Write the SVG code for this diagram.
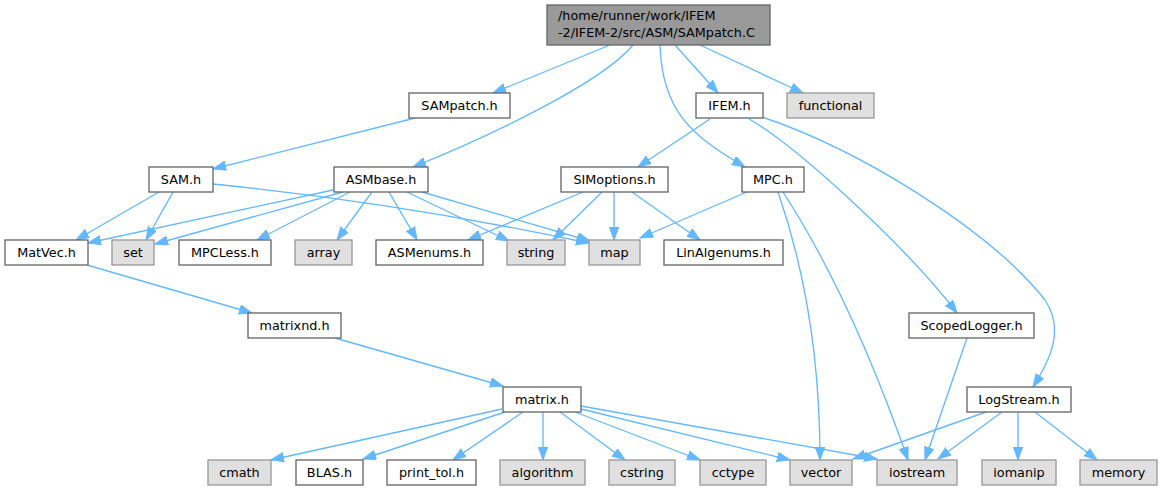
<svg xmlns="http://www.w3.org/2000/svg" width="1163" height="491" viewBox="0 0 1163 491">
<style>
text{font-family:"DejaVu Sans","Liberation Sans",sans-serif;font-size:12.8px;fill:#000;text-anchor:middle}
.n rect{fill:#fff;stroke:#666;stroke-width:1.33}
.g rect{fill:#e0e0e0;stroke:#999;stroke-width:1.33}
.r rect{fill:#999;stroke:#666;stroke-width:1.33}
.r text{text-anchor:start}
#edges path{fill:none;stroke:#63b8ff;stroke-width:1.33;marker-end:url(#ah)}
</style>
<defs>
<marker id="ah" markerUnits="userSpaceOnUse" markerWidth="14" markerHeight="10" refX="13" refY="4.7" orient="auto">
<path d="M0,0 L13,4.7 L0,9.4 z" fill="#63b8ff" stroke="#63b8ff" stroke-width="1"/>
</marker>
</defs>
<rect width="1163" height="491" fill="#fff"/>
<g id="edges">
<path d="M610,45 L493,93"/>
<path d="M633,45 C600,85 480,140 413,167"/>
<path d="M660,45 C662,110 690,135 745,167"/>
<path d="M675,45 L718,93"/>
<path d="M700,45 L803,93"/>
<path d="M415,118 L213,169"/>
<path d="M710,119 L638,167"/>
<path d="M749,119 C795,145 905,245 957,313"/>
<path d="M762,117 C860,150 990,230 1045,300 C1065,330 1050,360 1033,387"/>
<path d="M159,192 L76,240"/>
<path d="M173,192 L146,240"/>
<path d="M213,184 C350,198 480,220 589,243"/>
<path d="M333,190 L88,243"/>
<path d="M343,192 L155,244"/>
<path d="M350,192 L257,240"/>
<path d="M372,192 L337,240"/>
<path d="M389,192 L417,240"/>
<path d="M407,192 L509,241"/>
<path d="M422,192 L590,241"/>
<path d="M583,192 L468,240"/>
<path d="M602,192 L553,240"/>
<path d="M614,192 L614,240"/>
<path d="M632,192 L700,240"/>
<path d="M747,192 L640,238"/>
<path d="M778,192 C805,270 820,360 820,460"/>
<path d="M783,192 C840,280 880,380 908,460"/>
<path d="M967,338 L925,460"/>
<path d="M87,265 L252,313"/>
<path d="M335,338 L503,386"/>
<path d="M502,409 L271,460"/>
<path d="M505,412 L363,459"/>
<path d="M523,412 L453,460"/>
<path d="M543,412 L543,460"/>
<path d="M560,412 L625,460"/>
<path d="M575,412 L700,460"/>
<path d="M581,409 L790,460"/>
<path d="M581,406 L877,459"/>
<path d="M986,412 L853,459"/>
<path d="M1002,412 L938,459"/>
<path d="M1018,412 L1018,460"/>
<path d="M1035,412 L1097,460"/>
</g>
<g id="root" class="r"><rect x="547" y="5" width="223" height="40"/><text x="558" y="20">/home/runner/work/IFEM</text><text x="558" y="37">-2/IFEM-2/src/ASM/SAMpatch.C</text></g>
<g id="SAMpatch_h" class="n"><rect x="409" y="93" width="101" height="25"/><text x="459.5" y="110">SAMpatch.h</text></g>
<g id="IFEM_h" class="n"><rect x="696" y="93" width="67" height="25"/><text x="729.5" y="110">IFEM.h</text></g>
<g id="functional" class="g"><rect x="787" y="93" width="87" height="25"/><text x="830.5" y="110">functional</text></g>
<g id="SAM_h" class="n"><rect x="149" y="167" width="64" height="25"/><text x="181" y="184">SAM.h</text></g>
<g id="ASMbase_h" class="n"><rect x="334" y="167" width="94" height="25"/><text x="381" y="184">ASMbase.h</text></g>
<g id="SIMoptions_h" class="n"><rect x="561" y="167" width="107" height="25"/><text x="614.5" y="184">SIMoptions.h</text></g>
<g id="MPC_h" class="n"><rect x="742" y="167" width="62" height="25"/><text x="773" y="184">MPC.h</text></g>
<g id="MatVec_h" class="n"><rect x="5" y="240" width="83" height="25"/><text x="46.5" y="257">MatVec.h</text></g>
<g id="set" class="g"><rect x="112" y="240" width="42" height="25"/><text x="133" y="257">set</text></g>
<g id="MPCLess_h" class="n"><rect x="179" y="240" width="92" height="25"/><text x="225" y="257">MPCLess.h</text></g>
<g id="array" class="g"><rect x="295" y="240" width="57" height="25"/><text x="323.5" y="257">array</text></g>
<g id="ASMenums_h" class="n"><rect x="376" y="240" width="107" height="25"/><text x="429.5" y="257">ASMenums.h</text></g>
<g id="string" class="g"><rect x="507" y="240" width="58" height="25"/><text x="536" y="257">string</text></g>
<g id="map" class="g"><rect x="589" y="240" width="51" height="25"/><text x="614.5" y="257">map</text></g>
<g id="LinAlgenums_h" class="n"><rect x="664" y="240" width="119" height="25"/><text x="723.5" y="257">LinAlgenums.h</text></g>
<g id="matrixnd_h" class="n"><rect x="248" y="313" width="93" height="25"/><text x="294.5" y="330">matrixnd.h</text></g>
<g id="ScopedLogger_h" class="n"><rect x="909" y="313" width="125" height="25"/><text x="971.5" y="330">ScopedLogger.h</text></g>
<g id="matrix_h" class="n"><rect x="503" y="387" width="78" height="25"/><text x="542" y="404">matrix.h</text></g>
<g id="LogStream_h" class="n"><rect x="967" y="387" width="104" height="25"/><text x="1019" y="404">LogStream.h</text></g>
<g id="cmath" class="g"><rect x="208" y="460" width="63" height="25"/><text x="239.5" y="477">cmath</text></g>
<g id="BLAS_h" class="n"><rect x="296" y="460" width="67" height="25"/><text x="329.5" y="477">BLAS.h</text></g>
<g id="print_tol_h" class="n"><rect x="387" y="460" width="89" height="25"/><text x="431.5" y="477">print_tol.h</text></g>
<g id="algorithm" class="g"><rect x="500" y="460" width="85" height="25"/><text x="542.5" y="477">algorithm</text></g>
<g id="cstring" class="g"><rect x="609" y="460" width="66" height="25"/><text x="642" y="477">cstring</text></g>
<g id="cctype" class="g"><rect x="700" y="460" width="66" height="25"/><text x="733" y="477">cctype</text></g>
<g id="vector" class="g"><rect x="790" y="460" width="62" height="25"/><text x="821" y="477">vector</text></g>
<g id="iostream" class="g"><rect x="877" y="460" width="80" height="25"/><text x="917" y="477">iostream</text></g>
<g id="iomanip" class="g"><rect x="982" y="460" width="74" height="25"/><text x="1019" y="477">iomanip</text></g>
<g id="memory" class="g"><rect x="1080" y="460" width="77" height="25"/><text x="1118.5" y="477">memory</text></g>
</svg>
